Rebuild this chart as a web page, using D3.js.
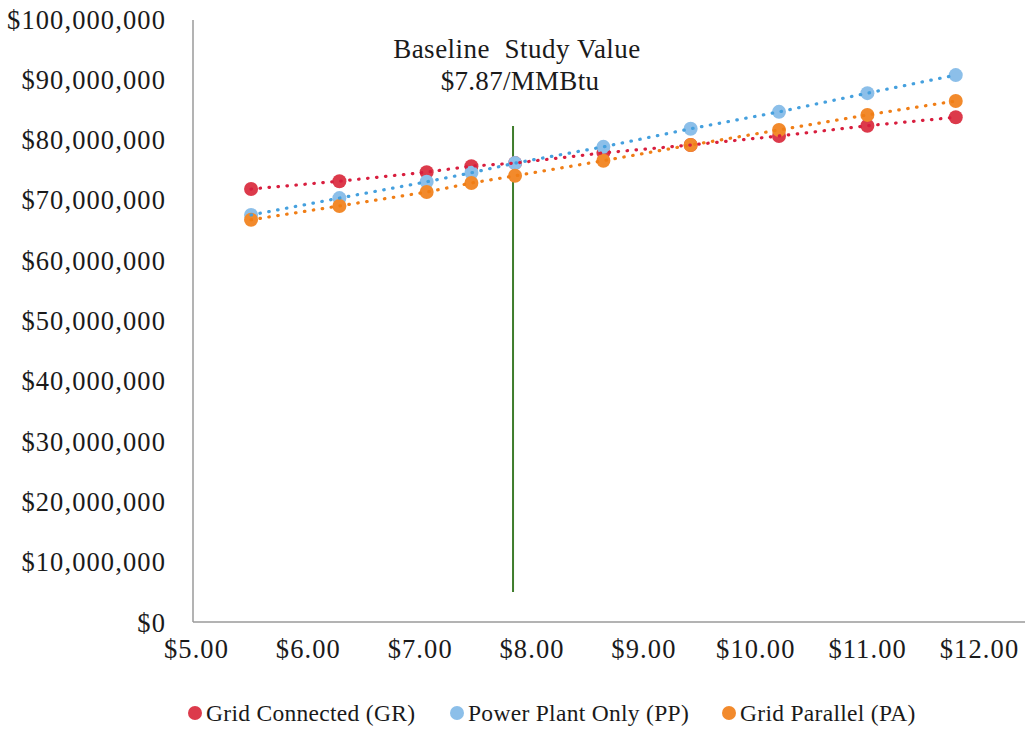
<!DOCTYPE html>
<html>
<head>
<meta charset="utf-8">
<script src="https://cdn.jsdelivr.net/npm/d3@7"></script>
<style>
  html, body { margin: 0; padding: 0; background: #fff; }
  svg { display: block; }
  text { font-family: "Liberation Serif", "Times New Roman", serif; fill: #1a1a1a; }
</style>
</head>
<body>
<svg id="chart" width="1025" height="729"></svg>
<script>
// ---- data ----
const priceValues = [5.51, 6.30, 7.08, 7.48, 7.87, 8.66, 9.44, 10.23, 11.02, 11.81];
const gridConnected = [71.8, 73.1, 74.6, 75.6, 76.1, 77.8, 79.1, 80.6, 82.3, 83.7];
const powerPlantOnly = [67.5, 70.3, 73.0, 74.5, 76.1, 78.8, 81.8, 84.6, 87.7, 90.7];
const gridParallel = [66.7, 69.0, 71.3, 72.8, 74.0, 76.5, 79.1, 81.6, 84.1, 86.4];
const seriesNames = ["Grid Connected (GR)", "Power Plant Only (PP)", "Grid Parallel (PA)"];
const xTicks = [5, 6, 7, 8, 9, 10, 11, 12];
const yTicks = [0, 10, 20, 30, 40, 50, 60, 70, 80, 90, 100]; // millions
const baselineValue = 7.87;
const baselineLabel = ["Baseline  Study Value", "$7.87/MMBtu"];

// ---- layout ----
const svg = d3.select("#chart");
const plotLeft = 194, plotRight = 977, plotTop = 19, plotBottom = 622;
const x = d3.scaleLinear().domain([5, 12]).range([plotLeft, plotRight]);
const y = d3.scaleLinear().domain([0, 100]).range([plotBottom, plotTop]);

const markerColors = ["#dc3a4b", "#8cbfe9", "#f28a2c"];
const lineColors = ["#d81e3e", "#45a0de", "#f07e16"];
const seriesData = [gridConnected, powerPlantOnly, gridParallel];

// axes lines
svg.append("line").attr("x1", plotLeft - 1).attr("x2", plotLeft - 1).attr("y1", plotTop + 1).attr("y2", plotBottom)
  .attr("stroke", "#9a9a9a").attr("stroke-width", 1.5);
svg.append("line").attr("x1", plotLeft - 1).attr("x2", 1025).attr("y1", plotBottom).attr("y2", plotBottom)
  .attr("stroke", "#9a9a9a").attr("stroke-width", 1.5);

// y axis labels
const fmtY = v => "$" + d3.format(",")(v * 1e6);
const yAxis = d3.axisLeft(y).tickValues(yTicks).tickFormat(fmtY).tickSize(0).tickPadding(0);
const gy = svg.append("g").attr("transform", `translate(166,0)`).call(yAxis);
gy.select(".domain").remove();
gy.selectAll("text").attr("font-size", 26.5).attr("font-family", "Liberation Serif").attr("fill", "#1a1a1a")
  .attr("letter-spacing", "1.1px").attr("dy", "0.34em");

// x axis labels
const fmtX = v => "$" + d3.format(".2f")(v);
const xAxis = d3.axisBottom(x).tickValues(xTicks).tickFormat(fmtX).tickSize(0).tickPadding(0);
const gx = svg.append("g").attr("transform", `translate(2,649)`).call(xAxis);
gx.select(".domain").remove();
gx.selectAll("text").attr("font-size", 26.5).attr("font-family", "Liberation Serif").attr("fill", "#1a1a1a")
  .attr("letter-spacing", "1.1px").attr("dy", "0.34em");

// baseline vertical line
svg.append("line")
  .attr("x1", x(baselineValue) - 2).attr("x2", x(baselineValue) - 2)
  .attr("y1", 126).attr("y2", 592)
  .attr("stroke", "#3f7d2c").attr("stroke-width", 2);

// baseline label
svg.append("text").attr("x", 517).attr("y", 58).attr("text-anchor", "middle")
  .attr("font-size", 27).attr("letter-spacing", "0.5px").style("white-space", "pre").text(baselineLabel[0]);
svg.append("text").attr("x", 520).attr("y", 90).attr("text-anchor", "middle")
  .attr("font-size", 27).attr("letter-spacing", "0.3px").text(baselineLabel[1]);

// markers
seriesData.forEach((vals, i) => {
  svg.append("g").selectAll("circle").data(vals).join("circle")
    .attr("cx", (d, j) => x(priceValues[j]))
    .attr("cy", d => y(d))
    .attr("r", 7)
    .attr("fill", markerColors[i]);
});

// dotted lines
const line = d3.line().x((d, j) => x(priceValues[j])).y(d => y(d));
seriesData.forEach((vals, i) => {
  svg.append("path").datum(vals)
    .attr("d", line)
    .attr("fill", "none")
    .attr("stroke", lineColors[i])
    .attr("stroke-width", 3.2)
    .attr("stroke-linecap", "round")
    .attr("stroke-dasharray", "0.5 8.5");
});

// legend
const legendX = [195, 457, 729];
const lg = svg.append("g");
seriesNames.forEach((name, i) => {
  lg.append("circle").attr("cx", legendX[i]).attr("cy", 713).attr("r", 7).attr("fill", markerColors[i]);
  lg.append("text").attr("x", legendX[i] + 11).attr("y", 713).attr("dy", "0.34em")
    .attr("font-size", 23.5).attr("letter-spacing", "0.3px").text(name);
});
</script>
</body>
</html>
